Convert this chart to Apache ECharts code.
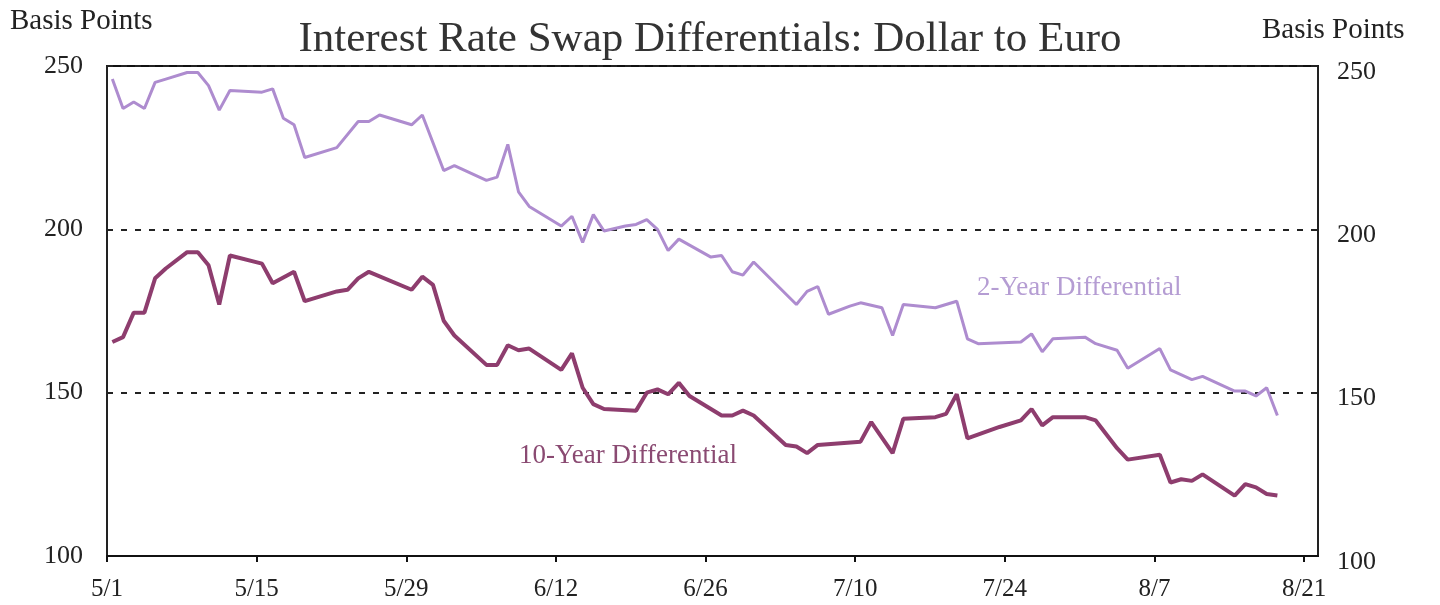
<!DOCTYPE html>
<html>
<head>
<meta charset="utf-8">
<title>Interest Rate Swap Differentials</title>
<script src="https://cdn.jsdelivr.net/npm/echarts@6/dist/echarts.min.js"></script>
<style>
  html, body { margin: 0; padding: 0; background: #fff; }
  #chart { width: 1440px; height: 605px; }
</style>
</head>
<body>
<div id="chart"></div>
<script>
// tick labels on the date axis, every 14 days from 5/1
const tickLabels = ['5/1', '5/15', '5/29', '6/12', '6/26', '7/10', '7/24', '8/7', '8/21']

// 2-year differential (basis points)
const dates2y = ['5/1', '5/2', '5/3', '5/4', '5/5', '5/6', '5/8', '5/9', '5/10', '5/11', '5/12',
  '5/15', '5/16', '5/17', '5/18', '5/19', '5/22', '5/24', '5/25', '5/26', '5/29', '5/30',
  '6/1', '6/2', '6/5', '6/6', '6/7', '6/8', '6/9', '6/12', '6/13', '6/14', '6/15', '6/16',
  '6/18', '6/19', '6/20', '6/21', '6/22', '6/23', '6/26', '6/27', '6/28', '6/29', '6/30',
  '7/4', '7/5', '7/6', '7/7', '7/9', '7/10', '7/12', '7/13', '7/14', '7/17', '7/19', '7/20',
  '7/21', '7/25', '7/26', '7/27', '7/28', '7/31', '8/1', '8/3', '8/4', '8/7', '8/8', '8/10',
  '8/11', '8/14', '8/15', '8/16', '8/17', '8/18']
const values2y = [246, 237, 239, 237, 245, 246, 248, 248, 244, 236.5, 242.5,
  242, 243, 234, 232, 222, 225, 233, 233, 235, 232, 235,
  218, 219.5, 215, 216, 226, 211.5, 207, 201, 204, 196, 204.5, 199.5,
  201, 201.5, 203, 200, 193.5, 197, 191.5, 192, 187, 186, 190,
  177, 181, 182.5, 174, 176.5, 177.5, 176, 167.5, 177, 176, 178, 166.5,
  165, 165.5, 168, 162.5, 166.5, 167, 165, 163, 157.5, 163.5, 157, 154,
  155, 150.5, 150.5, 149, 151.5, 143]

// 10-year differential (basis points)
const dates10y = ['5/1', '5/2', '5/3', '5/4', '5/5', '5/6', '5/8', '5/9', '5/10', '5/11', '5/12',
  '5/15', '5/16', '5/18', '5/19', '5/22', '5/23', '5/24', '5/25', '5/29', '5/30', '5/31',
  '6/1', '6/2', '6/5', '6/6', '6/7', '6/8', '6/9', '6/12', '6/13', '6/14', '6/15', '6/16',
  '6/19', '6/20', '6/21', '6/22', '6/23', '6/24', '6/27', '6/28', '6/29', '6/30',
  '7/3', '7/4', '7/5', '7/6', '7/10', '7/11', '7/13', '7/14', '7/17', '7/18', '7/19', '7/20',
  '7/23', '7/25', '7/26', '7/27', '7/28', '7/31', '8/1', '8/3', '8/4', '8/7', '8/8', '8/9',
  '8/10', '8/11', '8/14', '8/15', '8/16', '8/17', '8/18']
const values10y = [165.5, 167, 174.5, 174.5, 185, 188, 193, 193, 189, 177, 192,
  189.5, 183.5, 187, 178, 181, 181.5, 185, 187, 181.5, 185.5, 183,
  172, 167.5, 158.5, 158.5, 164.5, 163, 163.5, 157, 162, 151.5, 146.5, 145,
  144.5, 150, 151, 149.5, 153, 149, 143, 143, 144.5, 143,
  134, 133.5, 131.5, 134, 135, 141, 131.5, 142, 142.5, 143.5, 149.5, 136,
  139.5, 141.5, 145, 140, 142.5, 142.5, 141.5, 133, 129.5, 131, 122.5, 123.5,
  123, 125, 118.5, 122, 121, 119, 118.5]

const serif = "'Liberation Serif', 'DejaVu Serif', serif"

// day count from 5/1, each day plotted at its middle
function dayPos(md) {
  const [m, d] = md.split('/').map(Number)
  return (Date.UTC(2000, m - 1, d) - Date.UTC(2000, 4, 1)) / 86400000 + 0.5
}

const data2y = dates2y.map((d, i) => [dayPos(d), values2y[i]])
const data10y = dates10y.map((d, i) => [dayPos(d), values10y[i]])

const myChart = echarts.init(document.getElementById('chart'))

const yAxisBase = {
  type: 'value',
  min: 100,
  max: 250,
  interval: 50,
  axisLine: { show: true, lineStyle: { color: '#222', width: 2 } },
  axisTick: { show: false },
  axisLabel: { color: '#222', fontFamily: serif, fontSize: 26 }
}

const options = {
  backgroundColor: '#fff',
  animation: false,
  title: {
    text: 'Interest Rate Swap Differentials: Dollar to Euro',
    left: 705,
    top: 13,
    textAlign: 'center',
    textStyle: { fontFamily: serif, fontSize: 43, fontWeight: 'normal', color: '#333' }
  },
  grid: {
    left: 107,
    right: 122,
    top: 66,
    bottom: 49,
    show: true,
    borderColor: '#111',
    borderWidth: 2
  },
  xAxis: {
    type: 'value',
    min: 0,
    max: 113.3,
    interval: 14,
    axisLine: { show: true, lineStyle: { color: '#111', width: 2 } },
    axisTick: { show: true, length: 6, lineStyle: { color: '#111', width: 2 } },
    splitLine: { show: false },
    axisLabel: {
      margin: 21,
      color: '#222',
      fontFamily: serif,
      fontSize: 25,
      showMaxLabel: false,
      formatter: (v) => (v % 14 === 0 ? tickLabels[v / 14] || '' : '')
    }
  },
  yAxis: [
    Object.assign({}, yAxisBase, {
      position: 'left',
      axisLabel: Object.assign({}, yAxisBase.axisLabel, { margin: 24 }),
      splitLine: { show: true, lineStyle: { color: '#222', width: 2, type: [6, 8] } }
    }),
    Object.assign({}, yAxisBase, {
      position: 'right',
      axisLabel: Object.assign({}, yAxisBase.axisLabel, {
        margin: 19,
        formatter: (v) => '{r|' + v + '}',
        rich: { r: { color: '#222', fontFamily: serif, fontSize: 26, padding: [12, 0, 0, 0] } }
      }),
      splitLine: { show: false }
    })
  ],
  graphic: [
    { type: 'text', left: 10, top: 7, style: { text: 'Basis Points', font: '29px ' + serif, fill: '#222' } },
    { type: 'text', left: 1262, top: 16, style: { text: 'Basis Points', font: '29px ' + serif, fill: '#222' } },
    { type: 'text', left: 977, top: 274, style: { text: '2-Year Differential', font: '27px ' + serif, fill: '#b59dd3' } },
    { type: 'text', left: 519, top: 442, style: { text: '10-Year Differential', font: '27px ' + serif, fill: '#8a4a72' } }
  ],
  series: [
    {
      name: '2-Year Differential',
      type: 'line',
      data: data2y,
      showSymbol: false,
      lineStyle: { color: '#ae8ccf', width: 3 },
      z: 3
    },
    {
      name: '10-Year Differential',
      type: 'line',
      data: data10y,
      showSymbol: false,
      lineStyle: { color: '#8e3d6e', width: 4 },
      z: 4
    }
  ]
}

myChart.setOption(options)
</script>
</body>
</html>
